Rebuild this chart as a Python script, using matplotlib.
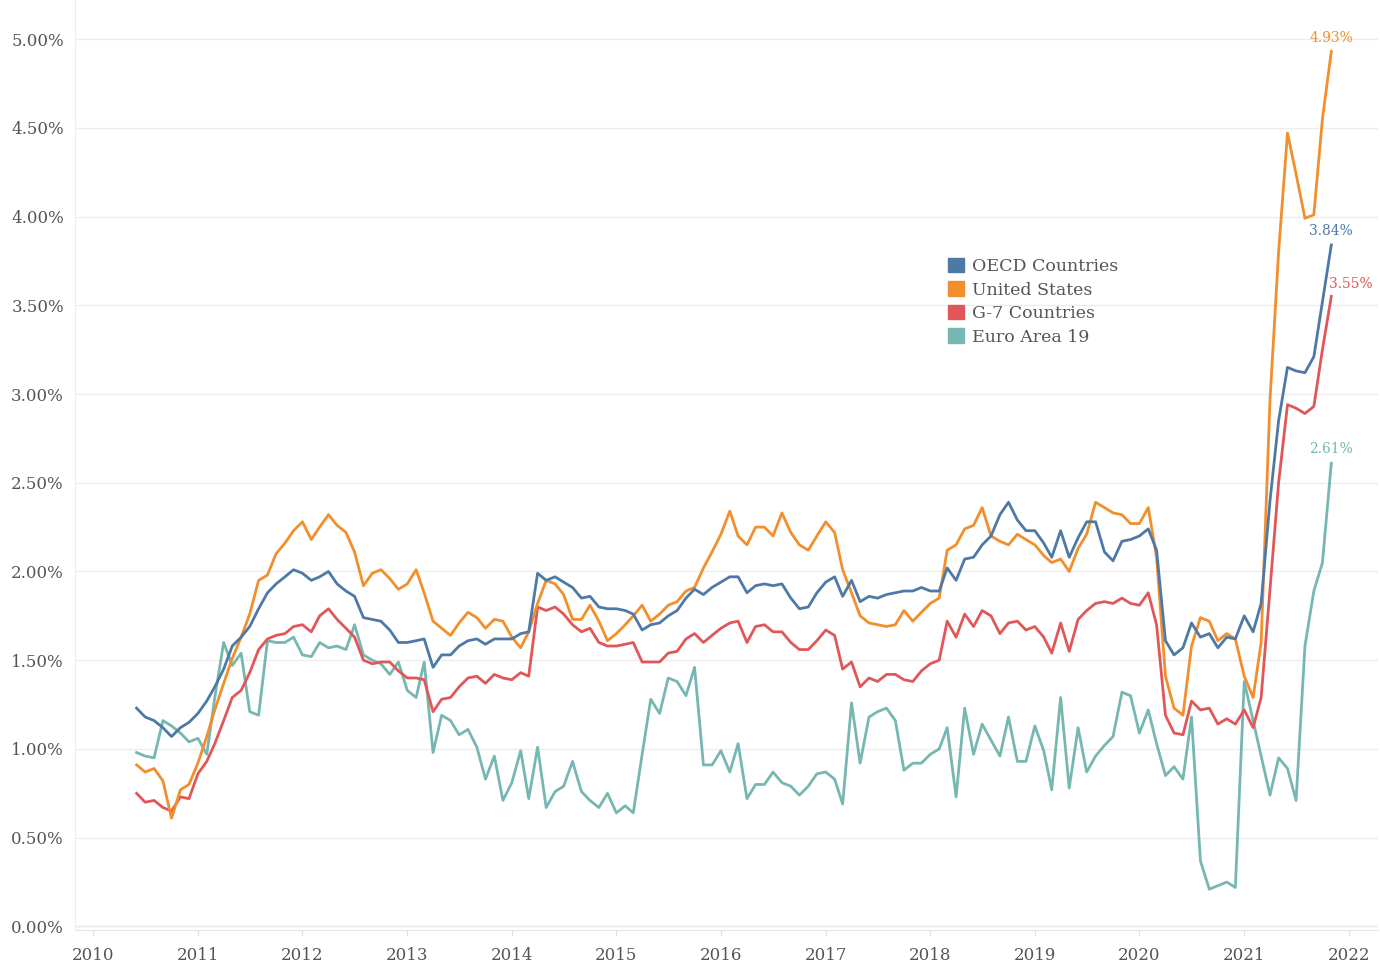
import matplotlib
matplotlib.use("Agg")
import matplotlib.pyplot as plt
import matplotlib.patches as mpatches
import matplotlib.ticker as mticker
import matplotlib.dates as mdates
import pandas as pd

# Core inflation (CPI less food and energy), % year over year, Jun 2010 - Nov 2021
months = pd.date_range("2010-06-01", periods=138, freq="MS")

oecd = [1.23, 1.18, 1.16, 1.12, 1.07, 1.12, 1.15, 1.20, 1.27, 1.35, 1.45, 1.58,
        1.63, 1.69, 1.79, 1.88, 1.93, 1.97, 2.01, 1.99, 1.95, 1.97, 2.00, 1.93,
        1.89, 1.86, 1.74, 1.73, 1.72, 1.67, 1.60, 1.60, 1.61, 1.62, 1.46, 1.53,
        1.53, 1.58, 1.61, 1.62, 1.59, 1.62, 1.62, 1.62, 1.65, 1.66, 1.99, 1.95,
        1.97, 1.94, 1.91, 1.85, 1.86, 1.80, 1.79, 1.79, 1.78, 1.76, 1.67, 1.70,
        1.71, 1.75, 1.78, 1.85, 1.90, 1.87, 1.91, 1.94, 1.97, 1.97, 1.88, 1.92,
        1.93, 1.92, 1.93, 1.85, 1.79, 1.80, 1.88, 1.94, 1.97, 1.86, 1.95, 1.83,
        1.86, 1.85, 1.87, 1.88, 1.89, 1.89, 1.91, 1.89, 1.89, 2.02, 1.95, 2.07,
        2.08, 2.15, 2.20, 2.32, 2.39, 2.29, 2.23, 2.23, 2.16, 2.08, 2.23, 2.08,
        2.19, 2.28, 2.28, 2.11, 2.06, 2.17, 2.18, 2.20, 2.24, 2.12, 1.61, 1.53,
        1.57, 1.71, 1.63, 1.65, 1.57, 1.63, 1.62, 1.75, 1.66, 1.82, 2.40, 2.85,
        3.15, 3.13, 3.12, 3.21, 3.52, 3.84]

us = [0.91, 0.87, 0.89, 0.82, 0.61, 0.77, 0.80, 0.92, 1.07, 1.22, 1.37, 1.51,
      1.63, 1.76, 1.95, 1.98, 2.10, 2.16, 2.23, 2.28, 2.18, 2.25, 2.32, 2.26,
      2.22, 2.11, 1.92, 1.99, 2.01, 1.96, 1.90, 1.93, 2.01, 1.88, 1.72, 1.68,
      1.64, 1.71, 1.77, 1.74, 1.68, 1.73, 1.72, 1.63, 1.57, 1.66, 1.82, 1.95,
      1.93, 1.87, 1.73, 1.73, 1.81, 1.72, 1.61, 1.65, 1.70, 1.75, 1.81, 1.72,
      1.76, 1.81, 1.83, 1.89, 1.91, 2.02, 2.11, 2.21, 2.34, 2.20, 2.15, 2.25,
      2.25, 2.20, 2.33, 2.22, 2.15, 2.12, 2.20, 2.28, 2.22, 2.01, 1.88, 1.75,
      1.71, 1.70, 1.69, 1.70, 1.78, 1.72, 1.77, 1.82, 1.85, 2.12, 2.15, 2.24,
      2.26, 2.36, 2.20, 2.17, 2.15, 2.21, 2.18, 2.15, 2.09, 2.05, 2.07, 2.00,
      2.13, 2.21, 2.39, 2.36, 2.33, 2.32, 2.27, 2.27, 2.36, 2.08, 1.41, 1.23,
      1.19, 1.58, 1.74, 1.72, 1.61, 1.65, 1.62, 1.41, 1.29, 1.60, 2.97, 3.80,
      4.47, 4.24, 3.99, 4.01, 4.55, 4.93]

g7 = [0.75, 0.70, 0.71, 0.67, 0.65, 0.73, 0.72, 0.86, 0.93, 1.03, 1.16, 1.29,
      1.33, 1.43, 1.56, 1.62, 1.64, 1.65, 1.69, 1.70, 1.66, 1.75, 1.79, 1.73,
      1.68, 1.63, 1.50, 1.48, 1.49, 1.49, 1.44, 1.40, 1.40, 1.39, 1.21, 1.28,
      1.29, 1.35, 1.40, 1.41, 1.37, 1.42, 1.40, 1.39, 1.43, 1.41, 1.80, 1.78,
      1.80, 1.76, 1.70, 1.66, 1.68, 1.60, 1.58, 1.58, 1.59, 1.60, 1.49, 1.49,
      1.49, 1.54, 1.55, 1.62, 1.65, 1.60, 1.64, 1.68, 1.71, 1.72, 1.60, 1.69,
      1.70, 1.66, 1.66, 1.60, 1.56, 1.56, 1.61, 1.67, 1.64, 1.45, 1.49, 1.35,
      1.40, 1.38, 1.42, 1.42, 1.39, 1.38, 1.44, 1.48, 1.50, 1.72, 1.63, 1.76,
      1.69, 1.78, 1.75, 1.65, 1.71, 1.72, 1.67, 1.69, 1.63, 1.54, 1.71, 1.55,
      1.73, 1.78, 1.82, 1.83, 1.82, 1.85, 1.82, 1.81, 1.88, 1.70, 1.19, 1.09,
      1.08, 1.27, 1.22, 1.23, 1.14, 1.17, 1.14, 1.22, 1.12, 1.29, 1.90, 2.50,
      2.94, 2.92, 2.89, 2.93, 3.25, 3.55]

euro = [0.98, 0.96, 0.95, 1.16, 1.13, 1.09, 1.04, 1.06, 0.97, 1.29, 1.60, 1.47,
        1.54, 1.21, 1.19, 1.61, 1.60, 1.60, 1.63, 1.53, 1.52, 1.60, 1.57, 1.58,
        1.56, 1.70, 1.53, 1.50, 1.48, 1.42, 1.49, 1.33, 1.29, 1.49, 0.98, 1.19,
        1.16, 1.08, 1.11, 1.01, 0.83, 0.96, 0.71, 0.81, 0.99, 0.72, 1.01, 0.67,
        0.76, 0.79, 0.93, 0.76, 0.71, 0.67, 0.75, 0.64, 0.68, 0.64, 0.97, 1.28,
        1.20, 1.40, 1.38, 1.30, 1.46, 0.91, 0.91, 0.99, 0.87, 1.03, 0.72, 0.80,
        0.80, 0.87, 0.81, 0.79, 0.74, 0.79, 0.86, 0.87, 0.83, 0.69, 1.26, 0.92,
        1.18, 1.21, 1.23, 1.16, 0.88, 0.92, 0.92, 0.97, 1.00, 1.12, 0.73, 1.23,
        0.97, 1.14, 1.05, 0.96, 1.18, 0.93, 0.93, 1.13, 0.99, 0.77, 1.29, 0.78,
        1.12, 0.87, 0.96, 1.02, 1.07, 1.32, 1.30, 1.09, 1.22, 1.03, 0.85, 0.90,
        0.83, 1.18, 0.37, 0.21, 0.23, 0.25, 0.22, 1.38, 1.16, 0.96, 0.74, 0.95,
        0.89, 0.71, 1.58, 1.89, 2.05, 2.61]

series = [
    ("OECD Countries", oecd, "#4e79a7"),
    ("United States", us, "#f28e2b"),
    ("G-7 Countries", g7, "#e15759"),
    ("Euro Area 19", euro, "#76b7b2"),
]
# label offsets (points) for the end-of-line value labels
label_offsets = {"OECD Countries": (0, 5), "United States": (0, 5),
                 "G-7 Countries": (14, 4), "Euro Area 19": (0, 5)}

text_color = "#555555"
plt.rcParams["font.family"] = ["DejaVu Serif"]

fig = plt.figure(figsize=(13.8, 9.69), dpi=100)
ax = fig.add_axes([75 / 1380, (969 - 930) / 969, 1303 / 1380, 930 / 969])

# draw euro first so the others sit on top, as in the original
for name, vals, color in reversed(series):
    ax.plot(months, vals, color=color, lw=2.0, solid_joinstyle="round", zorder=3)
    ax.annotate(f"{vals[-1]:.2f}%", (months[-1], vals[-1]),
                xytext=label_offsets[name], textcoords="offset points",
                ha="center", va="bottom", color=color, fontsize=10)

ax.set_ylim(-0.02, 5.22)
ax.set_xlim(pd.Timestamp("2009-10-29"), pd.Timestamp("2022-04-13"))

ax.set_yticks([i * 0.5 for i in range(11)])
ax.yaxis.set_major_formatter(mticker.FuncFormatter(lambda v, p: f"{v:.2f}%"))
ax.xaxis.set_major_locator(mdates.YearLocator())
ax.xaxis.set_major_formatter(mdates.DateFormatter("%Y"))

ax.grid(axis="y", color="#ececec", lw=0.9, zorder=0)
ax.axhline(0, color="#c8c8c8", lw=1, ls=(0, (1, 1)), zorder=1)
ax.tick_params(axis="y", length=0, pad=8, labelsize=12, labelcolor=text_color)
ax.tick_params(axis="x", length=4, color="#e0e0e0", pad=8, labelsize=12,
               labelcolor=text_color)
for side in ["top", "right"]:
    ax.spines[side].set_visible(False)
ax.spines["left"].set_color("#efefef")
ax.spines["bottom"].set_color("#e6e6e6")

handles = [mpatches.Patch(color=c, label=n) for n, v, c in series]
leg = ax.legend(handles=handles, loc="upper left", bbox_to_anchor=(0.665, 0.73),
                frameon=False, fontsize=12.5, handlelength=0.9, handleheight=0.9,
                handletextpad=0.45, labelspacing=0.36, borderaxespad=0)
for t in leg.get_texts():
    t.set_color(text_color)

fig.savefig("out.png", dpi=100)
